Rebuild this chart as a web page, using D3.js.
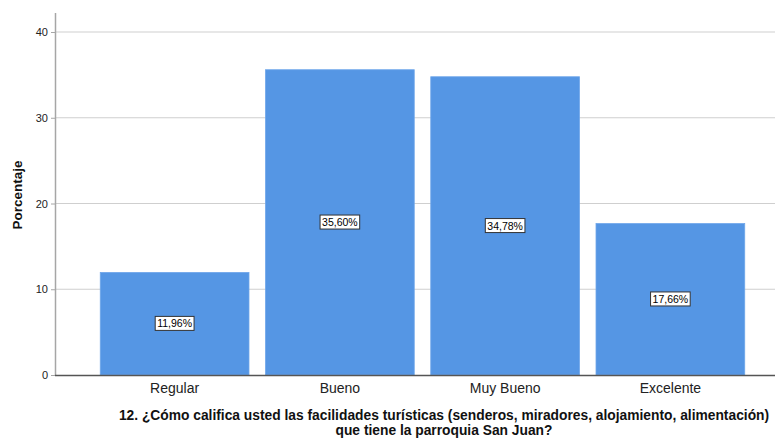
<!DOCTYPE html>
<html><head><meta charset="utf-8">
<script src="https://cdn.jsdelivr.net/npm/d3@7"></script>
<style>body{margin:0;background:#fff}svg{display:block;font-family:"Liberation Sans",Arial,sans-serif}</style>
</head><body><svg id="c" width="775" height="438"></svg>
<script>
const categories = ["Regular","Bueno","Muy Bueno","Excelente"];
const values = [11.96,35.60,34.78,17.66];
const labels = ["11,96%","35,60%","34,78%","17,66%"];
const yTicks = [0,10,20,30,40];
const titleLines = ["12. ¿Cómo califica usted las facilidades turísticas (senderos, miradores, alojamiento, alimentación)","que tiene la parroquia San Juan?"];

const svg = d3.select("#c");
const plotL = 55, plotR = 775, plotT = 13, plotB = 375;
const y = d3.scaleLinear().domain([0,40]).range([plotB,32]);
const x = d3.scaleBand().domain(categories).range([92,753]).paddingInner(0.1).paddingOuter(0.05);

// grid
svg.append("g").selectAll("line").data(yTicks.filter(d=>d>0)).join("line")
  .attr("x1",plotL).attr("x2",plotR).attr("y1",d=>y(d)).attr("y2",d=>y(d))
  .attr("stroke","#cfcfcf").attr("stroke-width",1.2);

// bars
svg.append("g").selectAll("rect").data(values).join("rect")
  .attr("x",(d,i)=>x(categories[i])).attr("width",x.bandwidth())
  .attr("y",d=>y(d)).attr("height",d=>plotB-y(d))
  .attr("fill","#5596e4").attr("stroke","#6ea6ea").attr("stroke-width",0.8);

// y axis
svg.append("line").attr("x1",plotL+0.5).attr("x2",plotL+0.5).attr("y1",plotT).attr("y2",plotB)
  .attr("stroke","#a6a6a6").attr("stroke-width",1.5);
const yAxis = svg.append("g").attr("transform",`translate(${plotL},0)`)
  .call(d3.axisLeft(y).tickValues(yTicks).tickSize(4).tickFormat(d3.format("d")));
yAxis.select(".domain").remove();
yAxis.selectAll("line").attr("stroke","#a6a6a6");
yAxis.selectAll("text").attr("font-size","11px").attr("fill","#222").attr("font-family","Liberation Sans, Arial, sans-serif");

// x axis
svg.append("line").attr("x1",plotL).attr("x2",plotR).attr("y1",plotB+0.5).attr("y2",plotB+0.5)
  .attr("stroke","#555").attr("stroke-width",1.5);
const xAxis = svg.append("g").attr("transform",`translate(0,${plotB})`)
  .call(d3.axisBottom(x).tickSize(0).tickPadding(8));
xAxis.select(".domain").remove();
xAxis.selectAll("text").attr("font-size","14px").attr("fill","#222").attr("font-family","Liberation Sans, Arial, sans-serif");

// value labels
const lg = svg.append("g").selectAll("g").data(values).join("g")
  .attr("transform",(d,i)=>`translate(${x(categories[i])+x.bandwidth()/2},${y(d/2)})`);
lg.append("text").text((d,i)=>labels[i]).attr("text-anchor","middle").attr("dy","0.35em")
  .attr("font-size","10.5px").attr("fill","#000").each(function(){
    const b=this.getBBox();
    d3.select(this.parentNode).insert("rect","text").attr("x",b.x-2).attr("y",b.y-1)
      .attr("width",b.width+4).attr("height",b.height+2).attr("fill","#fff")
      .attr("stroke","#333").attr("stroke-width",1);
  });

// y title
svg.append("text").attr("transform","translate(22,195) rotate(-90)").attr("text-anchor","middle")
  .attr("font-size","13.5px").attr("font-weight","bold").attr("fill","#111").text("Porcentaje");

// x title
svg.append("g").selectAll("text").data(titleLines).join("text")
  .attr("x",444).attr("y",(d,i)=>420+i*14.5).attr("text-anchor","middle")
  .attr("font-size","13.8px").attr("font-weight","bold").attr("fill","#111").text(d=>d);
</script></body></html>
